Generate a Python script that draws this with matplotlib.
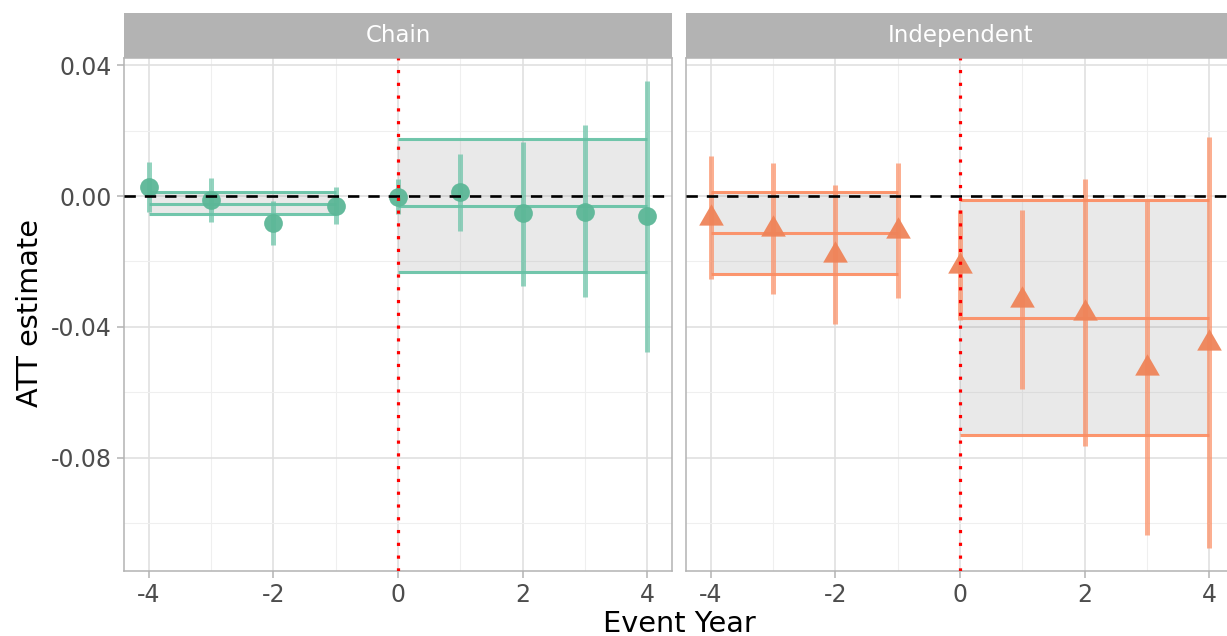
import numpy as np
import matplotlib
matplotlib.use("Agg")
import matplotlib.pyplot as plt
from matplotlib.ticker import FixedLocator, FuncFormatter

plt.rcParams["font.family"] = ["DejaVu Sans"]
plt.rcParams["axes.unicode_minus"] = False

# Event-study estimates by event year
event_year = [-4, -3, -2, -1, 0, 1, 2, 3, 4]

chain_est = [0.0027, -0.0012, -0.0082, -0.0030, -0.0002, 0.0012, -0.0052, -0.0048, -0.0061]
chain_lo = [-0.0049, -0.0079, -0.0150, -0.0086, -0.0056, -0.0107, -0.0275, -0.0308, -0.0476]
chain_hi = [0.0104, 0.0055, -0.0015, 0.0027, 0.0052, 0.0128, 0.0165, 0.0217, 0.0351]

indep_est = [-0.0067, -0.0101, -0.0181, -0.0108, -0.0214, -0.0317, -0.0357, -0.0525, -0.0449]
indep_lo = [-0.0253, -0.0299, -0.0391, -0.0311, -0.0379, -0.0589, -0.0763, -0.1035, -0.1075]
indep_hi = [0.0122, 0.0101, 0.0034, 0.0101, -0.0043, -0.0043, 0.0052, -0.0015, 0.0180]

# Period-average ATT (estimate, lower, upper) for pre and post periods
chain_pre = [-0.0024, -0.0055, 0.0012]
chain_post = [-0.0031, -0.0232, 0.0174]
indep_pre = [-0.0113, -0.0238, 0.0012]
indep_post = [-0.0372, -0.0730, -0.0012]

pre_span = [-4, -1]
post_span = [0, 4]

panels = ["Chain", "Independent"]
colors = ["#66c2a5", "#fc8d62"]
point_colors = ["#5cb797", "#ef8459"]

W, H = 1227, 636
fig = plt.figure(figsize=(W / 100, H / 100), dpi=100)


def px_rect(x0, y0, x1, y1):
    return [x0 / W, 1 - y1 / H, (x1 - x0) / W, (y1 - y0) / H]


panel_x = [(124, 672), (686, 1234)]
panel_top, panel_bot = 58, 571
strip_top = 12.7

data = [
    (chain_est, chain_lo, chain_hi, chain_pre, chain_post),
    (indep_est, indep_lo, indep_hi, indep_pre, indep_post),
]

tri = [(0, 1), (-0.866, -0.5), (0.866, -0.5)]

for i, (name, col, pcol, (est, lo, hi, pre, post)) in enumerate(
        zip(panels, colors, point_colors, data)):
    x0, x1 = panel_x[i]
    ax = fig.add_axes(px_rect(x0, panel_top, x1, panel_bot))
    ax.set_xlim(-4.4, 4.4)
    ax.set_ylim(-0.1146, 0.0422)

    # grid
    ax.xaxis.set_major_locator(FixedLocator([-4, -2, 0, 2, 4]))
    ax.xaxis.set_minor_locator(FixedLocator([-3, -1, 1, 3]))
    ax.yaxis.set_major_locator(FixedLocator([0.04, 0.0, -0.04, -0.08]))
    ax.yaxis.set_minor_locator(FixedLocator([0.02, -0.02, -0.06, -0.10]))
    ax.grid(which="major", color="#e0e0e0", linewidth=1.2)
    ax.grid(which="minor", color="#efefef", linewidth=0.8)
    ax.set_axisbelow(True)
    for s in ax.spines.values():
        s.set_color("#b3b3b3")
        s.set_linewidth(1.1)

    ax.xaxis.set_major_formatter(FuncFormatter(lambda v, p: f"{v:.0f}"))
    ax.yaxis.set_major_formatter(FuncFormatter(lambda v, p: f"{v:.2f}"))
    ax.tick_params(which="major", length=5, width=1.1, color="#b3b3b3",
                   pad=4, labelsize=17, labelcolor="#4d4d4d")
    ax.tick_params(which="minor", length=0)
    if i > 0:
        ax.tick_params(axis="y", which="both", left=False, labelleft=False)

    # period-average boxes
    for (m, l, u), (a, b) in [(pre, pre_span), (post, post_span)]:
        ax.fill_between([a, b], [l, l], [u, u], color="#808080", alpha=0.17,
                        linewidth=0, zorder=2)
        for yv in (m, l, u):
            ax.plot([a, b], [yv, yv], color=col, lw=2.2, alpha=0.92,
                    solid_capstyle="butt", zorder=3)

    # per-year intervals and estimates
    ax.vlines(event_year, lo, hi, color=col, lw=3.6, alpha=0.7, zorder=4)
    if i == 0:
        ax.plot(event_year, est, "o", ms=13.5, color=pcol, alpha=0.95,
                markeredgewidth=0, zorder=5)
    else:
        ax.plot(event_year, est, linestyle="none", marker=tri, ms=20.5,
                color=pcol, alpha=0.95, markeredgewidth=0, zorder=5)

    ax.axhline(0, color="black", lw=1.9, linestyle=(0, (4.3, 3.4)), zorder=6)
    ax.axvline(0, color="red", lw=2.3, linestyle=(0, (1, 3)), zorder=6)

    # facet strip
    sax = fig.add_axes(px_rect(x0, strip_top, x1, panel_top))
    sax.set_xticks([])
    sax.set_yticks([])
    sax.set_facecolor("#b3b3b3")
    for s in sax.spines.values():
        s.set_visible(False)
    sax.text(0.5, 0.5, name, transform=sax.transAxes, ha="center",
             va="center", color="white", fontsize=16.5)

fig.text(30 / W, 1 - 313 / H, "ATT estimate", rotation=90, ha="center",
         va="center", fontsize=20.7, color="black")
fig.text(679 / W, 1 - 624 / H, "Event Year", ha="center", va="center",
         fontsize=20.7, color="black")

fig.savefig("out.png", dpi=100, facecolor="white")
